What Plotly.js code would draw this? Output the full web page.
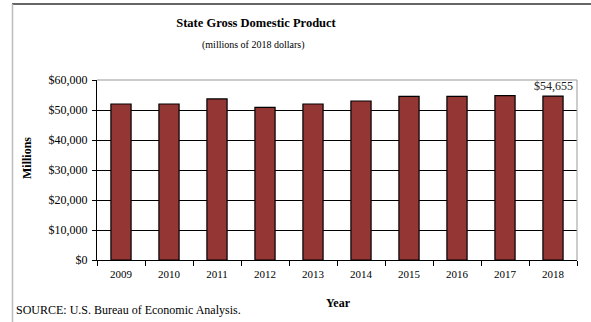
<!DOCTYPE html>
<html>
<head>
<meta charset="utf-8">
<script src="https://cdn.plot.ly/plotly-3.0.1.min.js"></script>
<style>html,body{margin:0;padding:0;background:#fff}#chart{width:591px;height:322px}</style>
</head>
<body>
<div id="chart"></div>
<script>
const years = ["2009","2010","2011","2012","2013","2014","2015","2016","2017","2018"];
const gdpMillions = [52000, 52000, 53700, 50900, 52000, 53000, 54550, 54550, 54800, 54655];
const yTickVals = [0, 10000, 20000, 30000, 40000, 50000, 60000];
const yTickText = ["$0","$10,000","$20,000","$30,000","$40,000","$50,000","$60,000"];
const lastLabel = "$54,655";

const font = "Liberation Serif, Times New Roman, serif";
// plot area: x 97..577, y 80..260
const PW = 480, PH = 180;

const trace = {
  type: "bar",
  x: years,
  y: gdpMillions,
  width: 0.42,
  marker: {color: "#943634", line: {color: "#000", width: 1.2}},
  hoverinfo: "skip"
};

const layout = {
  width: 591, height: 322,
  margin: {l: 97, r: 14, t: 80, b: 62},
  paper_bgcolor: "#fff", plot_bgcolor: "#fff",
  showlegend: false,
  font: {family: font, size: 12, color: "#000"},
  title: {
    text: "<b>State Gross Domestic Product</b>",
    xref: "container", yref: "container",
    x: 256/591, xanchor: "center", y: 1 - 23/322, yanchor: "middle",
    font: {family: font, size: 12.5, color: "#000"}
  },
  xaxis: {
    type: "category",
    range: [-0.5, years.length - 0.5],
    showline: true, linecolor: "#000", linewidth: 1,
    ticks: "outside", tickson: "boundaries", ticklen: 5, tickcolor: "#000",
    ticklabelstandoff: 4,
    tickfont: {family: font, size: 11},
    showgrid: false
  },
  yaxis: {
    range: [0, 60000],
    tickvals: yTickVals, ticktext: yTickText,
    showline: true, linecolor: "#000", linewidth: 1,
    ticks: "outside", ticklen: 4, tickcolor: "#000",
    ticklabelstandoff: 2,
    showgrid: true, gridcolor: "#000", gridwidth: 1,
    zeroline: false,
    tickfont: {family: font, size: 12}
  },
  shapes: [
    {type: "line", xref: "paper", yref: "paper", x0: 0, x1: 1, y0: 1, y1: 1, line: {color: "#999", width: 1}},
    {type: "line", xref: "paper", yref: "paper", x0: 1, x1: 1, y0: 0, y1: 1, line: {color: "#999", width: 1}},
    {type: "line", xref: "paper", yref: "paper", x0: -85/PW, x1: 494/PW, y0: 1 + 76/PH, y1: 1 + 76/PH, line: {color: "#333", width: 1.5}},
    {type: "line", xref: "paper", yref: "paper", x0: -84.5/PW, x1: -84.5/PW, y0: 1 + 76/PH, y1: -62/PH, line: {color: "#bbb", width: 1.5}}
  ],
  annotations: [
    {x: (253-97)/PW, y: 1 + (80-45)/PH, xref: "paper", yref: "paper", xanchor: "center", yanchor: "middle",
     text: "(millions of 2018 dollars)", showarrow: false,
     font: {family: font, size: 10, color: "#000"}},
    {x: years.length - 1, y: gdpMillions[gdpMillions.length - 1], xref: "x", yref: "y",
     text: lastLabel, showarrow: false, yanchor: "bottom", yshift: 1,
     font: {family: font, size: 12, color: "#222"}},
    {x: -83/PW, y: -50/PH, xref: "paper", yref: "paper", xanchor: "left", yanchor: "middle",
     text: "SOURCE: U.S. Bureau of Economic Analysis.", showarrow: false,
     font: {family: font, size: 12, color: "#000"}},
    {x: (338-97)/PW, y: -43/PH, xref: "paper", yref: "paper", xanchor: "center", yanchor: "middle",
     text: "<b>Year</b>", showarrow: false,
     font: {family: font, size: 12, color: "#000"}},
    {x: (27-97)/PW, y: (260-158)/PH, xref: "paper", yref: "paper", xanchor: "center", yanchor: "middle",
     text: "<b>Millions</b>", showarrow: false, textangle: -90,
     font: {family: font, size: 12, color: "#000"}}
  ]
};

Plotly.newPlot("chart", [trace], layout, {staticPlot: true, displayModeBar: false});
</script>
</body>
</html>
